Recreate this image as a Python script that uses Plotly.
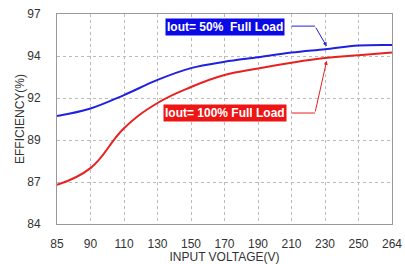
import plotly.graph_objects as go

voltages = ["85", "90", "110", "130", "150", "170", "190", "210", "230", "250", "264"]
eff_50 = [90.68, 91.15, 91.98, 92.92, 93.65, 94.04, 94.32, 94.61, 94.82, 95.05, 95.08]
eff_100 = [86.42, 87.46, 89.93, 91.49, 92.48, 93.22, 93.63, 93.98, 94.27, 94.45, 94.61]
y_tickvals = [84, 86.6, 89.2, 91.8, 94.4, 97]
y_ticktext = ["84", "87", "89", "92", "94", "97"]

BLUE = "#2020e0"
RED = "#e82020"

fig = go.Figure()
fig.add_trace(go.Scatter(x=voltages, y=eff_50, mode="lines",
                         line=dict(color=BLUE, width=2, shape="spline", smoothing=1.0)))
fig.add_trace(go.Scatter(x=voltages, y=eff_100, mode="lines",
                         line=dict(color=RED, width=2, shape="spline", smoothing=1.2)))

font = dict(family="Liberation Sans, Arial", size=12, color="#333")
title_font = dict(family="Liberation Sans, Arial", size=12, color="#333")
fig.update_layout(
    width=405, height=264, showlegend=False,
    margin=dict(l=57, r=13, t=14, b=40),
    paper_bgcolor="white", plot_bgcolor="white", font=font,
    xaxis=dict(type="category", range=[0, 10], showgrid=True, automargin=False,
               gridcolor="#bbb", griddash="dot", gridwidth=1,
               showline=True, linecolor="#999", mirror=True,
               ticks="outside", ticklen=9, tickcolor="rgba(0,0,0,0)",
               ticklabeloverflow="allow",
               title=dict(text="INPUT VOLTAGE(V)", standoff=0, font=title_font),
               zeroline=False),
    yaxis=dict(range=[84, 97], tickvals=y_tickvals, ticktext=y_ticktext, automargin=False,
               showgrid=True, gridcolor="#bbb", griddash="dot", gridwidth=1,
               showline=True, linecolor="#999", mirror=True,
               ticks="outside", ticklen=13, tickcolor="rgba(0,0,0,0)",
               ticklabeloverflow="allow",
               title=dict(text="EFFICIENCY(%)", standoff=0, font=title_font),
               zeroline=False),
)

label_font = dict(family="Liberation Sans, Arial", size=12, color="white")
fig.add_annotation(x=5.0, y=96.2, text="<b>Iout= 50%  Full Load</b>", showarrow=False,
                   bgcolor="#0a0ae6", font=label_font, borderpad=1, xref="x", yref="y")
fig.add_annotation(x=5.0, y=90.87, text="<b>Iout= 100% Full Load</b>", showarrow=False,
                   bgcolor="#ee1515", font=label_font, borderpad=1, xref="x", yref="y")

# connector lines
fig.add_shape(type="line", x0=7.0, y0=96.25, x1=7.7, y1=96.25, xref="x", yref="y",
              line=dict(color=BLUE, width=1))
fig.add_shape(type="line", x0=7.0, y0=90.87, x1=7.7, y1=90.87, xref="x", yref="y",
              line=dict(color=RED, width=1))
fig.add_annotation(x=8.05, y=95.0, ax=7.7, ay=96.25, axref="x", ayref="y", xref="x", yref="y",
                   text="", showarrow=True, arrowhead=2, arrowsize=0.8, arrowwidth=1, arrowcolor=BLUE)
fig.add_annotation(x=8.05, y=94.1, ax=7.7, ay=90.87, axref="x", ayref="y", xref="x", yref="y",
                   text="", showarrow=True, arrowhead=2, arrowsize=0.8, arrowwidth=1, arrowcolor=RED)

# remove the page's default 8px body margin so the figure fills the window
fig.write_html("out.html", config={"displayModeBar": False},
               post_script="document.body.style.margin='0';")
